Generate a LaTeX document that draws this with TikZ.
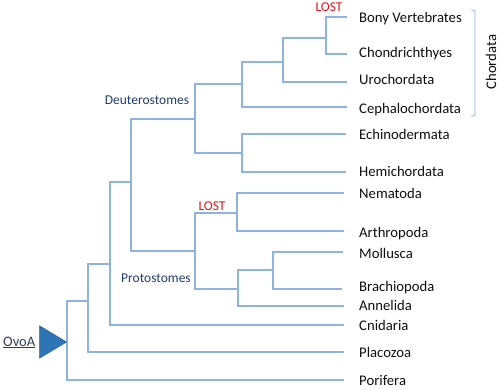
\documentclass[tikz,border=0pt]{standalone}
\usepackage{fontspec}
\setmainfont{Carlito}
\usetikzlibrary{shapes.geometric}
\definecolor{branch}{RGB}{141,179,226}
\definecolor{cladetext}{RGB}{31,60,110}
\definecolor{leaftext}{RGB}{15,15,15}
\definecolor{lostred}{RGB}{230,20,30}
\definecolor{triblue}{RGB}{46,117,182}
\definecolor{ovoatext}{RGB}{45,62,90}
\begin{document}
\begin{tikzpicture}[x=1pt,y=-1pt,
  br/.style={draw=branch,line width=1.7pt},
  leaf/.style={anchor=base west,inner sep=0pt,text=leaftext,font=\fontsize{14.7}{16}\selectfont},
  clade/.style={inner sep=0pt,text=cladetext,font=\fontsize{13.5}{15}\selectfont},
  lost/.style={inner sep=0pt,text=lostred,font=\fontsize{13.5}{15}\selectfont}]
\useasboundingbox (0,0) rectangle (500,389);
% leaves
\node[leaf] (bony) at (359,22) {Bony Vertebrates};
\node[leaf] (chond) at (359,57) {Chondrichthyes};
\node[leaf] (uro) at (359,84) {Urochordata};
\node[leaf] (ceph) at (359,113.5) {Cephalochordata};
\node[leaf] (echi) at (359,139.5) {Echinodermata};
\node[leaf] (hemi) at (359,176.5) {Hemichordata};
\node[leaf] (nema) at (359,198.5) {Nematoda};
\node[leaf] (arth) at (359,237.5) {Arthropoda};
\node[leaf] (moll) at (359,258.5) {Mollusca};
\node[leaf] (brac) at (359,291.5) {Brachiopoda};
\node[leaf] (anne) at (359,310.5) {Annelida};
\node[leaf] (cnid) at (359,330.5) {Cnidaria};
\node[leaf] (plac) at (359,357.5) {Placozoa};
\node[leaf] (pori) at (359,385.5) {Porifera};
% leaf line ends
\coordinate (ebony) at (347,17);
\coordinate (echond) at (347,54);
\coordinate (euro) at (347,82);
\coordinate (eceph) at (347,107);
\coordinate (eechi) at (346,134);
\coordinate (ehemi) at (346,172);
\coordinate (enema) at (344,193);
\coordinate (earth) at (344,231);
\coordinate (emoll) at (343,252);
\coordinate (ebrac) at (342,289);
\coordinate (eanne) at (344,306);
\coordinate (ecnid) at (344,325);
\coordinate (eplac) at (344,352);
\coordinate (epori) at (344,380);
% internal nodes
\coordinate (vert) at (326,38);
\coordinate (uroc) at (283,62);
\coordinate (chor) at (242,84);
\coordinate (ambu) at (242,153);
\coordinate (deut) at (195,119);
\coordinate (ecdy) at (237,213);
\coordinate (mobr) at (273,270);
\coordinate (loph) at (238,289);
\coordinate (prot) at (195,251);
\coordinate (bila) at (131,182);
\coordinate (cnbi) at (110,264);
\coordinate (plbi) at (88,301);
\coordinate (root) at (67,342);
% branches
\draw[br] (vert) |- (ebony);
\draw[br] (vert) |- (echond);
\draw[br] (uroc) |- (vert);
\draw[br] (uroc) |- (euro);
\draw[br] (chor) |- (uroc);
\draw[br] (chor) |- (eceph);
\draw[br] (ambu) |- (eechi);
\draw[br] (ambu) |- (ehemi);
\draw[br] (deut) |- (chor);
\draw[br] (deut) |- (ambu);
\draw[br] (ecdy) |- (enema);
\draw[br] (ecdy) |- (earth);
\draw[br] (mobr) |- (emoll);
\draw[br] (mobr) |- (ebrac);
\draw[br] (loph) |- (mobr);
\draw[br] (loph) |- (eanne);
\draw[br] (prot) |- (ecdy);
\draw[br] (prot) |- (loph);
\draw[br] (bila) |- (deut);
\draw[br] (bila) |- (prot);
\draw[br] (cnbi) |- (bila);
\draw[br] (cnbi) |- (ecnid);
\draw[br] (plbi) |- (cnbi);
\draw[br] (plbi) |- (eplac);
\draw[br] (root) |- (plbi);
\draw[br] (root) |- (epori);
% labels
\node[clade] (deutl) at (147,100) {Deuterostomes};
\node[clade] (protl) at (156,278) {Protostomes};
\node[lost] (lost1) at (329,7) {LOST};
\node[lost] (lost2) at (212,206.5) {LOST};
% Chordata bracket
\coordinate (bt) at (475,12);
\coordinate (bb) at (475,114);
\draw[draw=branch,line width=0.8pt] (471,10) .. controls (474,10) and (475,10) .. (bt) -- (bb) .. controls (475,116) and (474,116) .. (471,116);
\node[inner sep=0pt,rotate=90,text=leaftext,font=\fontsize{14.7}{16}\selectfont] (chordl) at (491,62) {Chordata};
% OvoA
\node[draw=triblue!80!black,fill=triblue,line width=0.4pt,isosceles triangle,isosceles triangle apex angle=62,inner sep=0pt,minimum height=27pt,anchor=apex] (tri) at (root) {};
\node[inner sep=0pt,text=ovoatext,font=\fontsize{14.5}{16}\selectfont,anchor=base west] (ovoa) at (3,346) {\underline{OvoA}};
\end{tikzpicture}
\end{document}
